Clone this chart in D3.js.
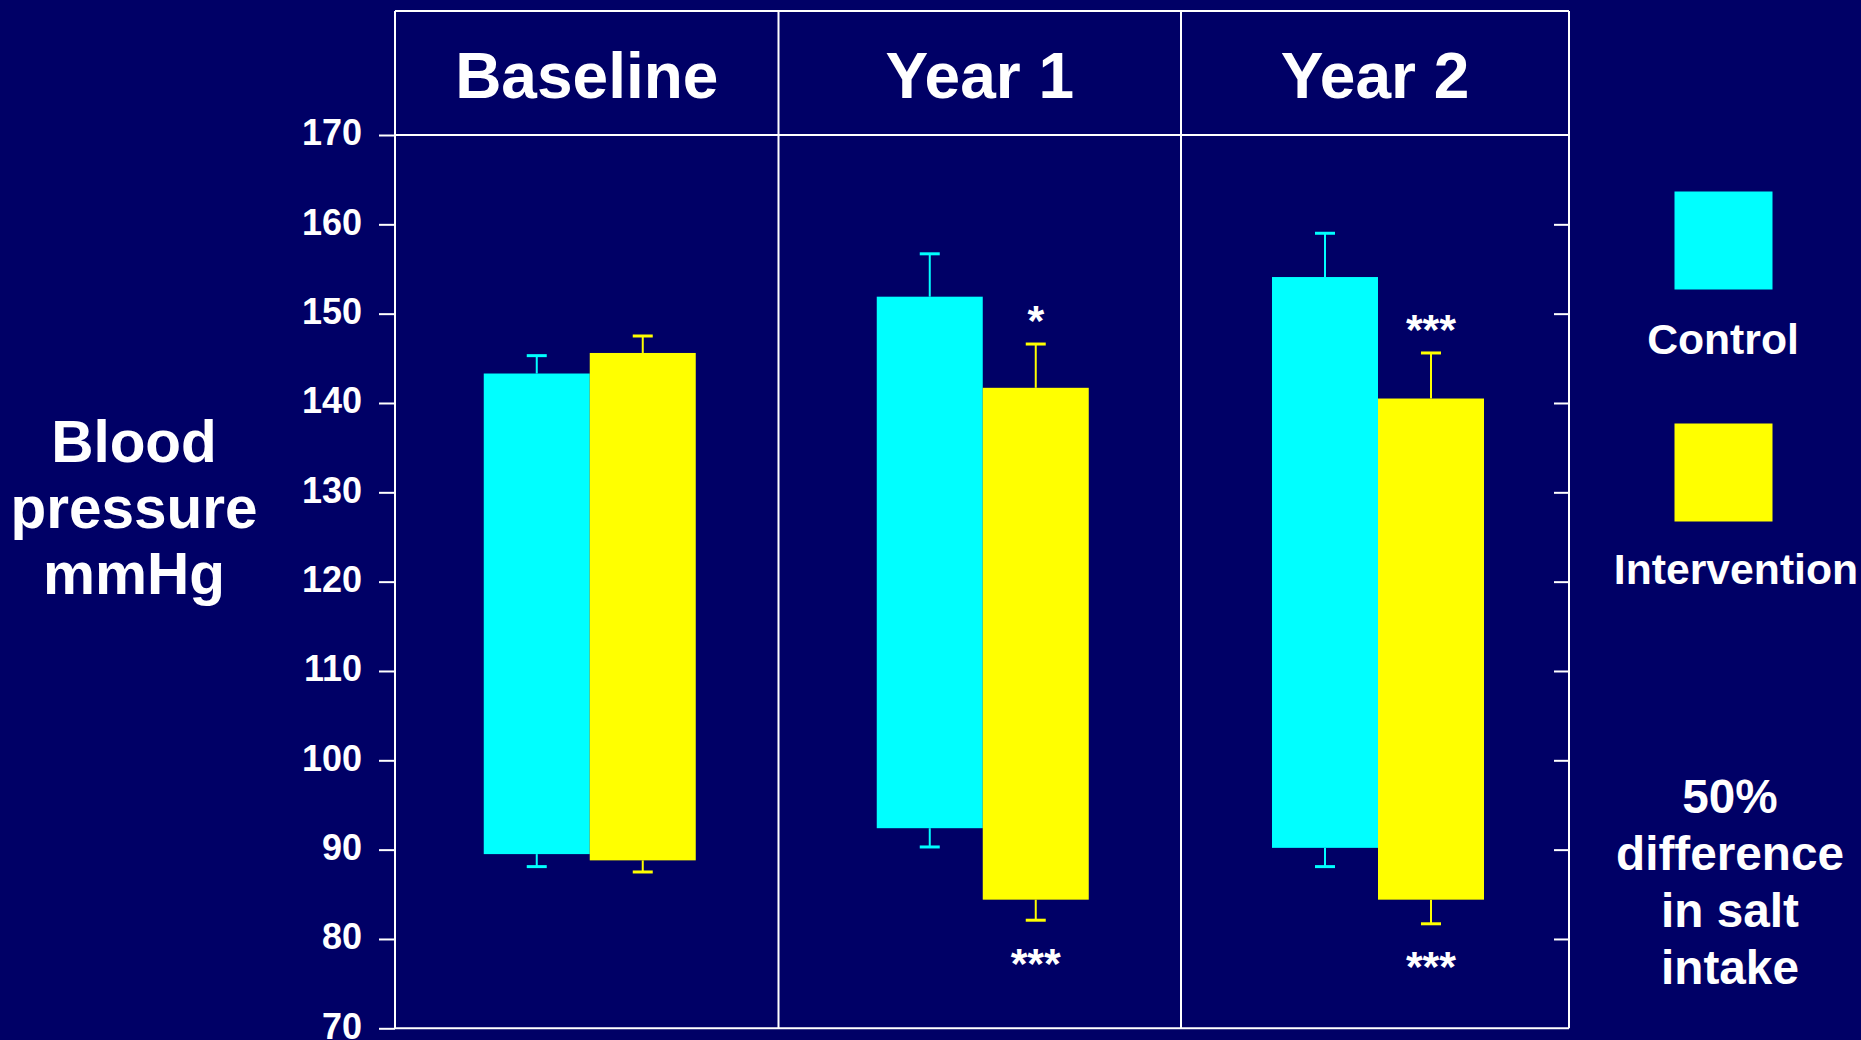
<!DOCTYPE html>
<html>
<head>
<meta charset="utf-8">
<script src="https://cdn.jsdelivr.net/npm/d3@7"></script>
<style>
  html, body { margin: 0; padding: 0; background: #000066; }
  svg { display: block; }
  text { font-family: "Liberation Sans", Arial, Helvetica, sans-serif; font-weight: bold; fill: #ffffff; }
</style>
</head>
<body>
<svg id="chart" width="1861" height="1040"></svg>
<script>
// Study periods and groups
const periods = ["Baseline", "Year 1", "Year 2"];
const groups = ["Control", "Intervention"];

// Systolic (bar top) and diastolic (bar bottom) blood pressure, mmHg, with SE
const controlSystolic = [143.3, 151.9, 154.1];
const controlSystolicSE = [2.0, 4.8, 4.9];
const controlDiastolic = [89.5, 92.4, 90.2];
const controlDiastolicSE = [1.4, 2.1, 2.1];

const interventionSystolic = [145.6, 141.7, 140.5];
const interventionSystolicSE = [1.9, 4.9, 5.1];
const interventionDiastolic = [88.8, 84.4, 84.4];
const interventionDiastolicSE = [1.3, 2.3, 2.7];

// Significance markers for the intervention group
const sigSystolic = ["", "*", "***"];
const sigDiastolic = ["", "***", "***"];

const yTicks = [70, 80, 90, 100, 110, 120, 130, 140, 150, 160, 170];
const yLabel = ["Blood", "pressure", "mmHg"];
const note = ["50%", "difference", "in salt", "intake"];

const colors = { Control: "#00ffff", Intervention: "#ffff00" };

// ---- layout ----
const svg = d3.select("#chart");
const W = 1861, H = 1040;
svg.append("rect").attr("width", W).attr("height", H).attr("fill", "#000066");

const frameTop = 11;
const panelEdges = [395, 778.5, 1181, 1569];
const left = panelEdges[0], right = panelEdges[3];

const y = d3.scaleLinear().domain([70, 170]).range([1028.3, 135]);
// piecewise panel scale: panel index -> x
const px = d3.scaleLinear().domain([0, 1, 2, 3]).range(panelEdges);

const barW = 106;
const capW = 20;
const lineColor = "#ffffff";

// ---- frame ----
const frame = svg.append("g").attr("stroke", lineColor).attr("stroke-width", 2).attr("fill", "none");
frame.append("line").attr("x1", left).attr("x2", right).attr("y1", frameTop).attr("y2", frameTop);
frame.append("line").attr("x1", left).attr("x2", right).attr("y1", y(170)).attr("y2", y(170));
frame.append("line").attr("x1", left).attr("x2", right).attr("y1", y(70)).attr("y2", y(70));
frame.selectAll("line.v").data(d3.range(4)).join("line")
  .attr("class", "v")
  .attr("x1", d => px(d)).attr("x2", d => px(d))
  .attr("y1", frameTop).attr("y2", y(70));

// ---- left axis ----
const yAxis = d3.axisLeft(y).tickValues(yTicks).tickSize(16).tickPadding(17).tickFormat(d3.format("d"));
const gy = svg.append("g").attr("transform", `translate(${left},0)`).call(yAxis);
gy.select(".domain").remove();
gy.selectAll(".tick line").attr("stroke", lineColor).attr("stroke-width", 2);
gy.selectAll(".tick text")
  .attr("fill", "#ffffff")
  .style("font-size", "36px")
  .style("font-family", "'Liberation Sans', Arial, sans-serif")
  .style("font-weight", "bold")
  .attr("dy", "0.27em");

// ---- right axis (inward ticks) ----
const yAxisR = d3.axisLeft(y).tickValues(yTicks.filter(v => v > 70 && v < 170)).tickSize(15).tickFormat("");
const gr = svg.append("g").attr("transform", `translate(${right},0)`).call(yAxisR);
gr.select(".domain").remove();
gr.selectAll(".tick line").attr("stroke", lineColor).attr("stroke-width", 2);

// ---- panel headers ----
svg.selectAll("text.header").data(periods).join("text")
  .attr("class", "header")
  .attr("x", (d, i) => px(i + 0.5))
  .attr("y", 98)
  .attr("text-anchor", "middle")
  .style("font-size", "64px")
  .text(d => d);

// ---- bars ----
const series = [
  { name: "Control", top: controlSystolic, topSE: controlSystolicSE, bot: controlDiastolic, botSE: controlDiastolicSE, offset: -barW },
  { name: "Intervention", top: interventionSystolic, topSE: interventionSystolicSE, bot: interventionDiastolic, botSE: interventionDiastolicSE, offset: 0 }
];

series.forEach(s => {
  const g = svg.append("g");
  const rows = periods.map((p, i) => ({
    i, top: s.top[i], topSE: s.topSE[i], bot: s.bot[i], botSE: s.botSE[i],
    x: px(i + 0.5) + 3 + s.offset
  }));
  // error bars (drawn first so bars cover the stems)
  rows.forEach(r => {
    const cx = r.x + barW / 2;
    const eg = g.append("g").attr("stroke", colors[s.name]).attr("stroke-width", 2);
    eg.append("line").attr("x1", cx).attr("x2", cx).attr("y1", y(r.top)).attr("y2", y(r.top + r.topSE));
    eg.append("line").attr("x1", cx - capW / 2).attr("x2", cx + capW / 2).attr("y1", y(r.top + r.topSE)).attr("y2", y(r.top + r.topSE)).attr("stroke-width", 3);
    eg.append("line").attr("x1", cx).attr("x2", cx).attr("y1", y(r.bot)).attr("y2", y(r.bot - r.botSE));
    eg.append("line").attr("x1", cx - capW / 2).attr("x2", cx + capW / 2).attr("y1", y(r.bot - r.botSE)).attr("y2", y(r.bot - r.botSE)).attr("stroke-width", 3);
  });
  g.selectAll("rect").data(rows).join("rect")
    .attr("x", d => d.x)
    .attr("width", barW)
    .attr("y", d => y(d.top))
    .attr("height", d => y(d.bot) - y(d.top))
    .attr("fill", colors[s.name]);
});

// ---- significance markers ----
const fsSig = 43;
periods.forEach((p, i) => {
  const cx = px(i + 0.5) + 3 + barW / 2;
  if (sigSystolic[i]) {
    const capY = y(interventionSystolic[i] + interventionSystolicSE[i]);
    svg.append("text").attr("x", cx).attr("y", capY - 31 + fsSig * 0.52)
      .attr("text-anchor", "middle").style("font-size", fsSig + "px").text(sigSystolic[i]);
  }
  if (sigDiastolic[i]) {
    const capY = y(interventionDiastolic[i] - interventionDiastolicSE[i]);
    svg.append("text").attr("x", cx).attr("y", capY + 35 + fsSig * 0.52)
      .attr("text-anchor", "middle").style("font-size", fsSig + "px").text(sigDiastolic[i]);
  }
});

// ---- y label ----
svg.append("g").selectAll("text").data(yLabel).join("text")
  .attr("x", 134).attr("y", (d, i) => 462 + i * 66)
  .attr("text-anchor", "middle").style("font-size", "58.5px").text(d => d);

// ---- legend ----
const legendY = [191.5, 423.5];
const legendTextY = [354, 584];
const legendTextX = [1723, 1736];
const lg = svg.append("g");
groups.forEach((gname, i) => {
  lg.append("rect").attr("x", 1674.5).attr("y", legendY[i]).attr("width", 98).attr("height", 98).attr("fill", colors[gname]);
  lg.append("text").attr("x", legendTextX[i]).attr("y", legendTextY[i]).attr("text-anchor", "middle")
    .style("font-size", "42.7px").text(gname);
});

// ---- side note ----
svg.append("g").selectAll("text").data(note).join("text")
  .attr("x", 1730).attr("y", (d, i) => 813 + i * 57)
  .attr("text-anchor", "middle").style("font-size", "47.7px").text(d => d);
</script>
</body>
</html>
